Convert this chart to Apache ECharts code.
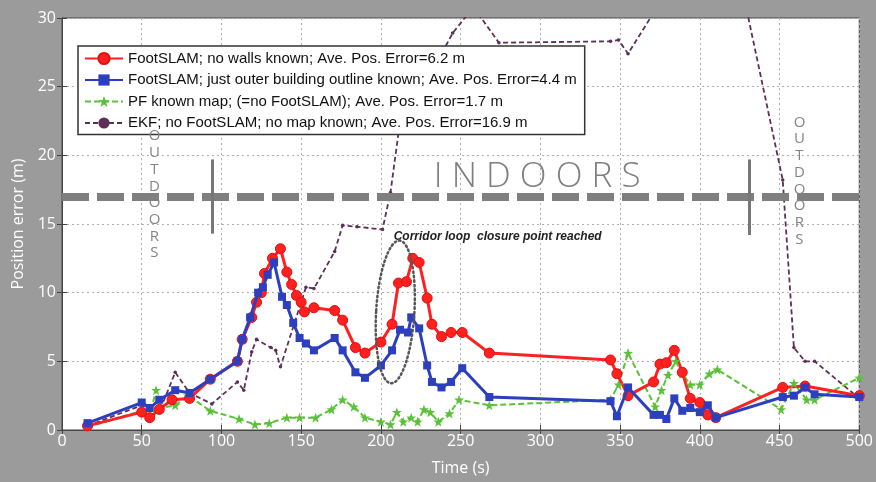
<!DOCTYPE html>
<html>
<head>
<meta charset="utf-8">
<script src="https://cdn.jsdelivr.net/npm/echarts@6/dist/echarts.min.js"></script>
<style>
html,body{margin:0;padding:0;background:#9b9b9b;}
#c{width:876px;height:482px;}
</style>
</head>
<body>
<div id="c"></div>
<script>
// ---- data ----
const xTicks = [0,50,100,150,200,250,300,350,400,450,500];
const yTicks = [0,5,10,15,20,25,30];

const seriesNames = [
  'FootSLAM; no walls known; Ave. Pos. Error=6.2 m',
  'FootSLAM; just outer building outline known; Ave. Pos. Error=4.4 m',
  'PF known map; (=no FootSLAM); Ave. Pos. Error=1.7 m',
  'EKF; no FootSLAM; no map known; Ave. Pos. Error=16.9 m'
];

const redT = [16,50,55,61,69,80,93,110,113,119,122,125,127,132,137,141,144,147,150,152,158,171,176,184,190,200,207,211,216,220,224,229,232,238,244,251,268,344,348,355,371,375,379,384,389,394,400,405,410,452,466,500];
const redV = [0.3,1.3,0.9,1.5,2.2,2.3,3.7,5.0,6.6,8.2,9.3,10.0,11.4,12.5,13.2,11.5,10.6,9.8,9.3,8.6,8.9,8.7,8.0,6.0,5.6,6.4,7.7,10.7,10.8,12.5,12.2,9.6,7.7,6.8,7.1,7.1,5.6,5.1,4.1,2.5,3.5,4.8,4.9,5.8,4.2,2.3,2.0,1.1,0.9,3.1,3.2,2.5];

const blueT = [16,50,55,61,71,80,93,110,113,118,123,126,129,133,138,141,145,149,153,158,171,176,184,190,200,207,212,217,219,224,229,232,238,244,251,268,344,348,355,371,375,379,384,389,394,400,405,410,452,459,466,472,500];
const blueV = [0.5,2.0,1.6,2.2,2.9,2.7,3.7,5.0,6.6,8.2,10.0,10.4,11.3,12.2,9.7,9.1,7.8,6.7,6.3,5.8,6.7,5.8,4.2,3.8,4.7,5.8,7.3,7.1,8.2,7.4,4.7,3.5,3.1,3.5,4.5,2.4,2.1,1.0,3.1,1.1,1.1,0.8,2.3,1.4,1.6,1.3,1.8,0.9,2.4,2.5,3.1,2.6,2.4];

const greenT = [16,50,55,59,62,71,79,93,111,121,130,141,149,159,169,176,183,190,200,206,210,214,219,223,227,231,236,243,249,268,344,349,355,372,376,380,385,389,394,400,406,411,451,459,467,472,500];
const greenV = [0.2,1.4,1.0,2.9,1.6,1.8,2.5,1.4,0.8,0.4,0.5,0.9,0.9,0.9,1.5,2.2,1.7,0.9,0.6,0.4,1.3,0.6,0.9,0.6,1.5,1.3,0.6,1.2,2.2,1.8,2.2,3.3,5.6,1.7,2.9,4.0,5.0,4.1,3.3,3.3,4.1,4.4,1.5,3.4,2.2,2.2,3.8];

const ekfT = [16,50,61,71,80,94,110,114,119,122,131,134,137,153,158,171,176,185,201,206,211,245,258,274,344,349,355,385,425,452,459,466,472,500];
const ekfV = [0.3,1.8,1.3,4.2,2.7,1.9,3.5,2.9,5.7,6.6,6.0,5.8,4.6,10.4,10.3,13.0,14.9,14.8,14.6,17.3,21.6,28.9,30.8,28.2,28.3,28.4,27.4,33,33,18.2,6.0,5.0,5.0,2.3];

// annotation anchors (data units)
const boundaryLevel = 17.0;
const boundaryMarks = [[94,19.7,14.3],[431,19.7,14.2]];

function pairs(t, v){ return t.map((x,i)=>[x, v[i]]); }

const chart = echarts.init(document.getElementById('c'));
const font = 'Open Sans';

const option = {
  backgroundColor: '#9b9b9b',
  animation: false,
  grid: { left: 62, right: 14, top: 18, bottom: 52, show: true, backgroundColor: '#ffffff', borderColor: '#444', borderWidth: 1 },
  legend: {
    data: seriesNames,
    orient: 'vertical',
    left: 78, top: 46,
    itemWidth: 38, itemHeight: 14, itemGap: 6.5,
    padding: [5, 8, 4, 6],
    backgroundColor: '#ffffff',
    borderColor: '#333', borderWidth: 1.5,
    textStyle: { fontFamily: 'Liberation Sans', fontSize: 15, color: '#111' },
    selectedMode: false
  },
  xAxis: [{
    type: 'value', min: 0, max: 500, interval: 50,
    name: 'Time (s)', nameLocation: 'middle', nameGap: 30,
    nameTextStyle: { color: '#fff', fontSize: 16, fontFamily: font },
    axisLine: { show: true, lineStyle: { color: '#444', width: 1 } },
    axisTick: { show: true, inside: true, length: 5, lineStyle: { color: '#444' } },
    axisLabel: { color: '#fff', fontSize: 16, fontFamily: font, margin: 3 },
    splitLine: { show: true, lineStyle: { color: '#b0b0b0', type: [2, 3], width: 1 } }
  }, {
    type: 'value', min: 0, max: 500, interval: 50, position: 'top',
    axisLine: { show: true, lineStyle: { color: '#444' } },
    axisTick: { show: true, inside: true, length: 5, lineStyle: { color: '#444' } },
    axisLabel: { show: false }, splitLine: { show: false }
  }],
  yAxis: [{
    type: 'value', min: 0, max: 30, interval: 5,
    name: 'Position error (m)', nameLocation: 'middle', nameGap: 32,
    nameTextStyle: { color: '#fff', fontSize: 16, fontFamily: font },
    axisLine: { show: true, lineStyle: { color: '#444', width: 1 } },
    axisTick: { show: true, inside: true, length: 5, lineStyle: { color: '#444' } },
    axisLabel: { color: '#fff', fontSize: 16, fontFamily: font, margin: 6 },
    splitLine: { show: true, lineStyle: { color: '#b0b0b0', type: [2, 3], width: 1 } }
  }, {
    type: 'value', min: 0, max: 30, interval: 5, position: 'right',
    axisLine: { show: true, lineStyle: { color: '#444' } },
    axisTick: { show: true, inside: true, length: 5, lineStyle: { color: '#444' } },
    axisLabel: { show: false }, splitLine: { show: false }
  }],
  series: [
    {
      name: seriesNames[3], type: 'line', data: pairs(ekfT, ekfV), clip: true, z: 3,
      symbol: 'circle', symbolSize: 3.5,
      lineStyle: { color: '#5e3058', width: 1.8, type: [5, 3] },
      itemStyle: { color: '#5e3058' },
      markLine: {
        silent: true, symbol: 'none', label: { show: false }, animation: false,
        data: [
          [{ coord: [0, boundaryLevel], lineStyle: { color: '#7f7f7f', width: 8, type: [27, 8] } }, { coord: [500, boundaryLevel] }],
          [{ coord: [boundaryMarks[0][0], boundaryMarks[0][1]], lineStyle: { color: '#777', width: 3, type: 'solid' } }, { coord: [boundaryMarks[0][0], boundaryMarks[0][2]] }],
          [{ coord: [boundaryMarks[1][0], boundaryMarks[1][1]], lineStyle: { color: '#777', width: 3, type: 'solid' } }, { coord: [boundaryMarks[1][0], boundaryMarks[1][2]] }]
        ]
      }
    },
    {
      name: seriesNames[2], type: 'line', data: pairs(greenT, greenV), z: 4,
      symbol: 'path://M0,-10 L2.4,-3.2 9.5,-3.1 3.8,1.2 5.9,8.1 0,4 -5.9,8.1 -3.8,1.2 -9.5,-3.1 -2.4,-3.2 Z', symbolSize: 10,
      lineStyle: { color: '#5cc13a', width: 2, type: [6, 3] },
      itemStyle: { color: '#5cc13a' }
    },
    {
      name: seriesNames[1], type: 'line', data: pairs(blueT, blueV), z: 5,
      symbol: 'rect', symbolSize: 8,
      lineStyle: { color: '#2b3fbf', width: 3 },
      itemStyle: { color: '#2b3fbf' }
    },
    {
      name: seriesNames[0], type: 'line', data: pairs(redT, redV), z: 4,
      symbol: 'circle', symbolSize: 10,
      lineStyle: { color: '#ff2020', width: 3 },
      itemStyle: { color: '#ff2020', borderColor: '#e01010', borderWidth: 1 }
    }
  ]
};
chart.setOption(option);

function px(t, v){ return chart.convertToPixel({ gridIndex: 0 }, [t, v]); }

const pIndoor = px(298, 18.4);
const pOutL = px(58, 22.0);
const pOutR = px(462.5, 23.0);
const pCorr = px(208, 14.1);
const pEll = px(209, 8.6);
const pEllTop = px(209, 8.6 + 5.2);
const pEllSide = px(209 + 12, 8.6);

const outdoors = 'O\nU\nT\nD\nO\nO\nR\nS';
chart.setOption({
  graphic: [
    { type: 'text', x: pIndoor[0], y: pIndoor[1], z: 10,
      style: { text: 'I N D O O R S', fill: '#808080', font: '300 35px "Open Sans"', textAlign: 'center', textVerticalAlign: 'middle' } },
    { type: 'text', x: pOutL[0], y: pOutL[1], z: 10,
      style: { text: outdoors, fill: '#858585', font: '15px "Open Sans"', lineHeight: 16.7, textAlign: 'center', textVerticalAlign: 'top' } },
    { type: 'text', x: pOutR[0], y: pOutR[1], z: 10,
      style: { text: outdoors, fill: '#858585', font: '15px "Open Sans"', lineHeight: 16.7, textAlign: 'center', textVerticalAlign: 'top' } },
    { type: 'text', x: pCorr[0], y: pCorr[1], z: 10,
      style: { text: 'Corridor loop  closure point reached', fill: '#222', font: 'italic bold 12px "Liberation Sans"', textAlign: 'left', textVerticalAlign: 'middle' } },
    { type: 'ellipse', x: pEll[0], y: pEll[1], rotation: -0.06, z: 10,
      shape: { cx: 0, cy: 0, rx: Math.abs(pEllSide[0] - pEll[0]), ry: Math.abs(pEll[1] - pEllTop[1]) },
      style: { fill: 'none', stroke: '#555', lineWidth: 2.5, lineDash: [1.5, 3], lineCap: 'round' } }
  ]
});
</script>
</body>
</html>
